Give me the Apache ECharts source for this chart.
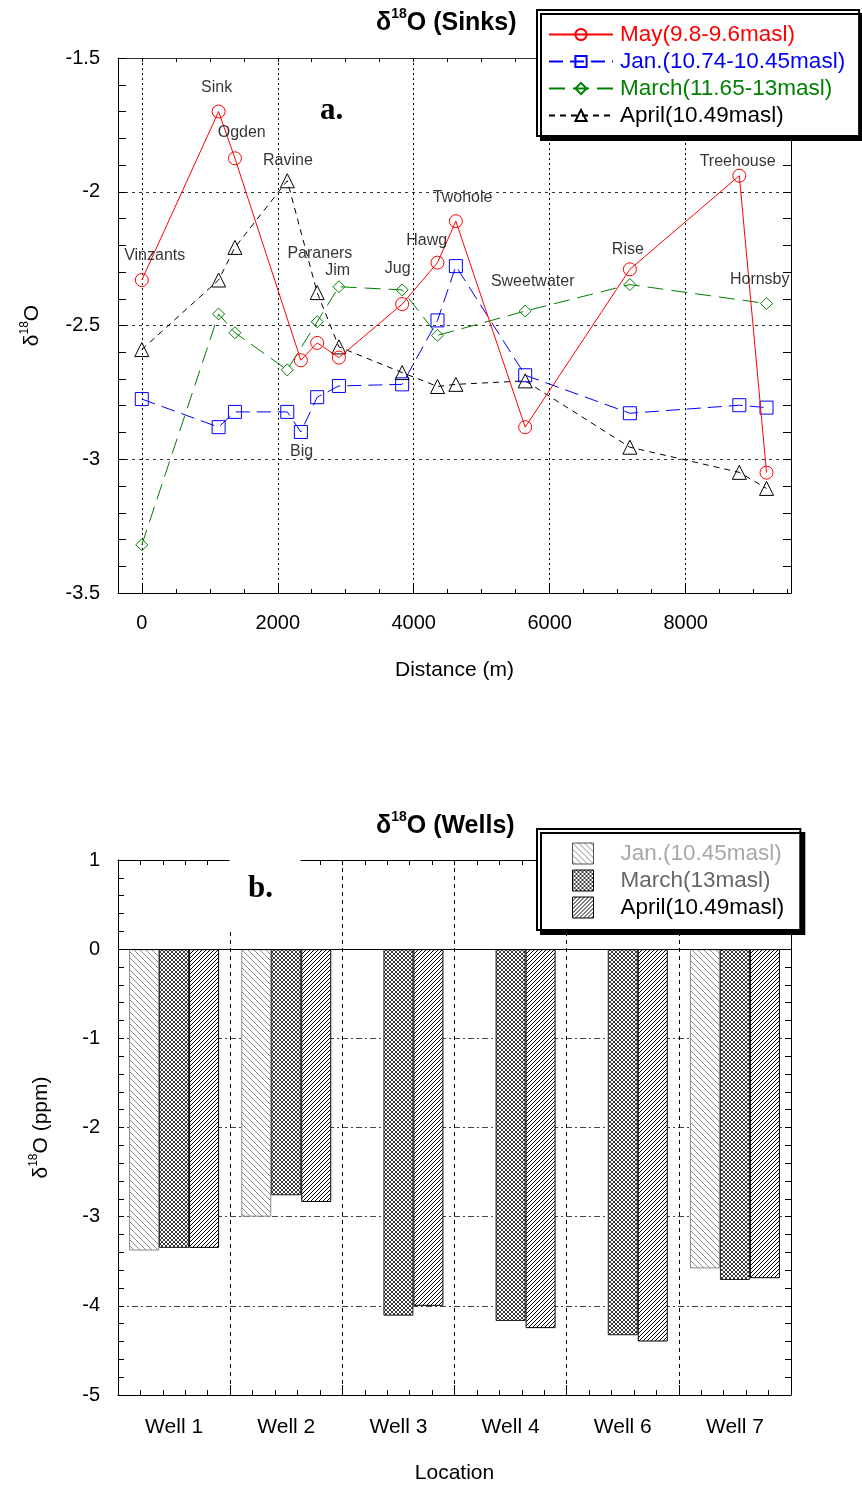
<!DOCTYPE html>
<html><head><meta charset="utf-8">
<script src="https://cdn.jsdelivr.net/npm/echarts@6/dist/echarts.min.js"></script>
<style>html,body{margin:0;padding:0;background:#fff}#c{width:862px;height:1489px}</style>
</head><body><div id="c"></div>
<script>
// ---------- Panel a: d18O in sinks ----------
const mayDist = [0, 1130, 1370, 2340, 2580, 2900, 3830, 4350, 4620, 5640, 7180, 8790, 9190];
const mayVals = [-2.33, -1.70, -1.875, -2.63, -2.565, -2.62, -2.42, -2.265, -2.11, -2.88, -2.29, -1.94, -3.05];
const janDist = [0, 1130, 1370, 2140, 2340, 2580, 2900, 3830, 4350, 4620, 5640, 7180, 8790, 9190];
const janVals = [-2.775, -2.88, -2.823, -2.823, -2.898, -2.768, -2.726, -2.72, -2.481, -2.278, -2.686, -2.828, -2.798, -2.807];
const marDist = [0, 1130, 1370, 2140, 2580, 2900, 3830, 4350, 5640, 7180, 9190];
const marVals = [-3.32, -2.457, -2.527, -2.666, -2.486, -2.355, -2.367, -2.537, -2.446, -2.347, -2.418];
const aprDist = [0, 1130, 1370, 2140, 2580, 2900, 3830, 4350, 4620, 5640, 7180, 8790, 9190];
const aprVals = [-2.59, -2.33, -2.208, -1.959, -2.377, -2.58, -2.676, -2.728, -2.72, -2.707, -2.955, -3.049, -3.109];

const siteNames  = ['Vinzants', 'Sink', 'Ogden', 'Ravine', 'Paraners', 'Jim', 'Big', 'Jug', 'Hawg', 'Twohole', 'Sweetwater', 'Rise', 'Treehouse', 'Hornsby'];
const siteLabelX = [190, 1100, 1470, 2150, 2620, 2880, 2350, 3765, 4190, 4720, 5750, 7150, 8765, 9090];
const siteLabelY = [-2.24, -1.612, -1.78, -1.885, -2.233, -2.293, -2.973, -2.289, -2.184, -2.023, -2.337, -2.218, -1.889, -2.33];

const distTicks = [0, 2000, 4000, 6000, 8000];
const distMinorTicks = [0, 500, 1000, 1500, 2000, 2500, 3000, 3500, 4000, 4500, 5000, 5500, 6000, 6500, 7000, 7500, 8000, 8500, 9000, 9500];

const seriesNamesA = ['May(9.8-9.6masl)', 'Jan.(10.74-10.45masl)', 'March(11.65-13masl)', 'April(10.49masl)'];

// ---------- Panel b: d18O in wells ----------
const wells = ['Well 1', 'Well 2', 'Well 3', 'Well 4', 'Well 6', 'Well 7'];
const wJan = [-3.38, -3.0, null, null, null, -3.58];
const wMar = [-3.35, -2.76, -4.11, -4.17, -4.33, -3.71];
const wApr = [-3.35, -2.835, -4.0, -4.25, -4.40, -3.69];
const seriesNamesB = ['Jan.(10.45masl)', 'March(13masl)', 'April(10.49masl)'];

const FONT = 'Liberation Sans';

function pairs(xs, ys) { return xs.map((x, i) => [x, ys[i]]); }

function makePattern(size, draw) {
  const c = document.createElement('canvas');
  c.width = size; c.height = size;
  const g = c.getContext('2d');
  g.fillStyle = '#fff'; g.fillRect(0, 0, size, size);
  draw(g, size);
  return { image: c, repeat: 'repeat' };
}
function back(g, s) { g.beginPath(); g.moveTo(-1, -1); g.lineTo(s + 1, s + 1); g.moveTo(-1, s - 1); g.lineTo(1, s + 1); g.moveTo(s - 1, -1); g.lineTo(s + 1, 1); g.stroke(); }
function fwd(g, s) { g.beginPath(); g.moveTo(-1, s + 1); g.lineTo(s + 1, -1); g.moveTo(-1, 1); g.lineTo(1, -1); g.moveTo(s - 1, s + 1); g.lineTo(s + 1, s - 1); g.stroke(); }
function janPattern() { return makePattern(6, (g, s) => { g.strokeStyle = '#8c8c8c'; g.lineWidth = 1; back(g, s); }); }
function marPattern() { return makePattern(4, (g, s) => { g.strokeStyle = '#3a3a3a'; g.lineWidth = 1; back(g, s); fwd(g, s); }); }
function aprPattern() { return makePattern(4, (g, s) => { g.strokeStyle = '#000'; g.lineWidth = 1; fwd(g, s); }); }

const richName = {
  d: { fontSize: 21, fontFamily: FONT, color: '#000', verticalAlign: 'bottom', lineHeight: 26 },
  s: { fontSize: 12, fontFamily: FONT, color: '#000', verticalAlign: 'bottom', lineHeight: 12, padding: [0, 0, 12, 0] }
};
const richTitle = {
  d: { fontSize: 25, fontWeight: 'bold', fontFamily: FONT, color: '#000', verticalAlign: 'bottom', lineHeight: 30 },
  s: { fontSize: 14, fontWeight: 'bold', fontFamily: FONT, color: '#000', verticalAlign: 'bottom', lineHeight: 14, padding: [0, 0, 15, 0] }
};

const axisBlack = { onZero: false, lineStyle: { color: '#000', width: 1 } };
const noLine = { show: false, onZero: false };
const noCommas = v => String(v);

const chart = echarts.init(document.getElementById('c'), null, { renderer: 'canvas' });

const option = {
  animation: false,
  backgroundColor: '#fff',
  title: [
    { text: '{d|δ}{s|18}{d|O (Sinks)}', left: 371, top: 1, textStyle: { rich: richTitle } },
    { text: '{d|δ}{s|18}{d|O (Wells)}', left: 371, top: 804, textStyle: { rich: richTitle } }
  ],
  grid: [
    { left: 118, top: 58, width: 673, height: 535 },
    { left: 118, top: 860, width: 673, height: 535 }
  ],
  legend: [
    {
      orient: 'vertical', left: 537, top: 10,
      data: [
        { name: seriesNamesA[0], textStyle: { color: '#ff0000' } },
        { name: seriesNamesA[1], textStyle: { color: '#0000ff' } },
        { name: seriesNamesA[2], textStyle: { color: '#008000' } },
        { name: seriesNamesA[3], textStyle: { color: '#000000' } }
      ],
      itemWidth: 64, itemHeight: 14, itemGap: 4,
      textStyle: { fontSize: 22.5, fontFamily: FONT, padding: [0, 0, 0, 2] },
      backgroundColor: '#fff', borderColor: '#000', borderWidth: 2, borderRadius: 0,
      padding: [13, 14, 9, 11],
      shadowColor: '#000', shadowOffsetX: 4, shadowOffsetY: 4, shadowBlur: 0,
      selectedMode: false
    },
    {
      orient: 'vertical', left: 537, top: 829,
      data: [
        { name: seriesNamesB[0], textStyle: { color: '#a8a8a8' }, itemStyle: { color: janPattern(), borderColor: '#555', borderWidth: 1 } },
        { name: seriesNamesB[1], textStyle: { color: '#666666' }, itemStyle: { color: marPattern(), borderColor: '#000', borderWidth: 1 } },
        { name: seriesNamesB[2], textStyle: { color: '#000000' }, itemStyle: { color: aprPattern(), borderColor: '#000', borderWidth: 1 } }
      ],
      icon: 'rect', itemWidth: 21, itemHeight: 21, itemGap: 4,
      textStyle: { fontSize: 22.5, fontFamily: FONT, padding: [0, 0, 0, 22] },
      backgroundColor: '#fff', borderColor: '#000', borderWidth: 2, borderRadius: 0,
      padding: [13, 16, 11, 35],
      shadowColor: '#000', shadowOffsetX: 4, shadowOffsetY: 4, shadowBlur: 0,
      selectedMode: false
    }
  ],
  xAxis: [
    { // 0: panel a main
      type: 'value', gridIndex: 0, min: -350, max: 9550, position: 'bottom',
      axisLine: axisBlack,
      axisTick: { customValues: distTicks, inside: true, length: 10, lineStyle: { color: '#000' } },
      axisLabel: { customValues: distTicks, formatter: noCommas, fontSize: 20, fontFamily: FONT, color: '#000', margin: 20 },
      splitLine: { show: true, lineStyle: { color: '#000', type: [2, 3], width: 1 } },
      name: 'Distance (m)', nameLocation: 'middle', nameGap: 67,
      nameTextStyle: { fontSize: 21, fontFamily: FONT, color: '#000' }
    },
    { // 1: panel a minor ticks bottom
      type: 'value', gridIndex: 0, min: -350, max: 9550, position: 'bottom',
      axisLine: noLine,
      axisTick: { customValues: distMinorTicks, inside: true, length: 4, lineStyle: { color: '#000' } },
      axisLabel: { show: false }, splitLine: { show: false }
    },
    { // 2: panel a top frame
      type: 'value', gridIndex: 0, min: -350, max: 9550, position: 'top',
      axisLine: { onZero: false, lineStyle: { color: '#333', width: 1 } },
      axisTick: { customValues: distMinorTicks, inside: true, length: 4, lineStyle: { color: '#000' } },
      axisLabel: { show: false }, splitLine: { show: false }
    },
    { // 3: panel b categories
      type: 'category', gridIndex: 1, data: wells, position: 'bottom',
      axisLine: axisBlack, axisTick: { show: false },
      axisLabel: { fontSize: 21, fontFamily: FONT, color: '#000', margin: 22 },
      splitLine: { show: false },
      name: 'Location', nameLocation: 'middle', nameGap: 68,
      nameTextStyle: { fontSize: 21, fontFamily: FONT, color: '#000' }
    },
    { // 4: panel b ticks + vertical separators
      type: 'value', gridIndex: 1, min: 0, max: 6, interval: 1, position: 'bottom',
      axisLine: noLine,
      axisTick: { inside: true, length: 10, lineStyle: { color: '#000' } },
      minorTick: { show: true, splitNumber: 5, length: 5, lineStyle: { color: '#000' } },
      axisLabel: { show: false },
      splitLine: { show: true, lineStyle: { color: '#000', type: [4, 4], width: 1 } }
    },
    { // 5: panel b top frame
      type: 'value', gridIndex: 1, min: 0, max: 6, interval: 1, position: 'top',
      axisLine: axisBlack,
      axisTick: { inside: true, length: 5, lineStyle: { color: '#000' } },
      minorTick: { show: true, splitNumber: 5, length: 5, lineStyle: { color: '#000' } },
      axisLabel: { show: false }, splitLine: { show: false }
    }
  ],
  yAxis: [
    { // 0: panel a left
      type: 'value', gridIndex: 0, min: -3.5, max: -1.5, interval: 0.5, position: 'left',
      axisLine: axisBlack,
      axisTick: { inside: true, length: 8, lineStyle: { color: '#000' } },
      minorTick: { show: true, splitNumber: 5, length: 8, lineStyle: { color: '#000' } },
      axisLabel: { fontSize: 20, fontFamily: FONT, color: '#000', margin: 18 },
      splitLine: { show: true, lineStyle: { color: '#333', type: [3, 4], width: 1 } },
      name: '{d|δ}{s|18}{d|O}', nameLocation: 'middle', nameGap: 75, nameRotate: 90,
      nameTextStyle: { rich: richName }
    },
    { // 1: panel a right
      type: 'value', gridIndex: 0, min: -3.5, max: -1.5, interval: 0.5, position: 'right',
      axisLine: axisBlack,
      axisTick: { inside: true, length: 8, lineStyle: { color: '#000' } },
      minorTick: { show: true, splitNumber: 5, length: 8, lineStyle: { color: '#000' } },
      axisLabel: { show: false }, splitLine: { show: false }
    },
    { // 2: panel b left
      type: 'value', gridIndex: 1, min: -5, max: 1, interval: 1, position: 'left',
      axisLine: axisBlack,
      axisTick: { inside: true, length: 6, lineStyle: { color: '#000' } },
      minorTick: { show: true, splitNumber: 5, length: 6, lineStyle: { color: '#000' } },
      axisLabel: { fontSize: 20, fontFamily: FONT, color: '#000', margin: 18 },
      splitLine: { show: true, lineStyle: { color: '#444', type: [6, 3, 2, 3], width: 1 } },
      name: '{d|δ}{s|18}{d|O (ppm)}', nameLocation: 'middle', nameGap: 66, nameRotate: 90,
      nameTextStyle: { rich: richName }
    },
    { // 3: panel b right
      type: 'value', gridIndex: 1, min: -5, max: 1, interval: 1, position: 'right',
      axisLine: axisBlack,
      axisTick: { inside: true, length: 6, lineStyle: { color: '#000' } },
      minorTick: { show: true, splitNumber: 5, length: 6, lineStyle: { color: '#000' } },
      axisLabel: { show: false }, splitLine: { show: false }
    }
  ],
  series: [
    {
      name: seriesNamesA[0], type: 'line', xAxisIndex: 0, yAxisIndex: 0,
      data: pairs(mayDist, mayVals),
      symbol: 'circle', symbolSize: 13,
      lineStyle: { color: '#ff0000', width: 1, type: 'solid' },
      itemStyle: { color: 'rgba(255,255,255,0)', borderColor: '#ff0000', borderWidth: 1 },
      z: 4
    },
    {
      name: seriesNamesA[1], type: 'line', xAxisIndex: 0, yAxisIndex: 0,
      data: pairs(janDist, janVals),
      symbol: 'rect', symbolSize: 13,
      lineStyle: { color: '#0000ff', width: 1, type: [14, 7] },
      itemStyle: { color: 'rgba(255,255,255,0)', borderColor: '#0000ff', borderWidth: 1 },
      z: 3
    },
    {
      name: seriesNamesA[2], type: 'line', xAxisIndex: 0, yAxisIndex: 0,
      data: pairs(marDist, marVals),
      symbol: 'diamond', symbolSize: 12,
      lineStyle: { color: '#008000', width: 1, type: [16, 8] },
      itemStyle: { color: 'rgba(255,255,255,0)', borderColor: '#008000', borderWidth: 1 },
      z: 3
    },
    {
      name: seriesNamesA[3], type: 'line', xAxisIndex: 0, yAxisIndex: 0,
      data: pairs(aprDist, aprVals),
      symbol: 'triangle', symbolSize: 14,
      lineStyle: { color: '#000000', width: 1, type: [6, 5] },
      itemStyle: { color: 'rgba(255,255,255,0)', borderColor: '#000000', borderWidth: 1 },
      z: 3
    },
    {
      name: 'sites', type: 'scatter', xAxisIndex: 0, yAxisIndex: 0, silent: true,
      symbolSize: 1, itemStyle: { color: 'rgba(0,0,0,0)' },
      data: siteNames.map((n, i) => ({ name: n, value: [siteLabelX[i], siteLabelY[i]] })),
      label: { show: true, position: 'inside', formatter: '{b}', fontSize: 16, fontFamily: FONT, color: '#000' },
      z: 6
    },
    {
      name: seriesNamesB[0], type: 'bar', xAxisIndex: 3, yAxisIndex: 2,
      data: wJan, barWidth: 30, barGap: '0%',
      itemStyle: { color: janPattern(), borderColor: '#8a8a8a', borderWidth: 1 }
    },
    {
      name: seriesNamesB[1], type: 'bar', xAxisIndex: 3, yAxisIndex: 2,
      data: wMar, barWidth: 30, barGap: '0%',
      itemStyle: { color: marPattern(), borderColor: '#222', borderWidth: 1 }
    },
    {
      name: seriesNamesB[2], type: 'bar', xAxisIndex: 3, yAxisIndex: 2,
      data: wApr, barWidth: 30, barGap: '0%',
      itemStyle: { color: aprPattern(), borderColor: '#000', borderWidth: 1 },
      markLine: {
        silent: true, symbol: 'none', label: { show: false },
        lineStyle: { color: '#000', type: 'solid', width: 1 },
        data: [{ yAxis: 0 }]
      }
    }
  ],
  graphic: [
    { type: 'text', left: 320, top: 95, z: 100, style: { text: 'a.', font: 'bold 31px "Liberation Serif"', fill: '#000' } },
    { type: 'rect', z: 99, shape: { x: 229.5, y: 853, width: 71, height: 75 }, style: { fill: '#fff' } },
    { type: 'text', left: 248, top: 873, z: 100, style: { text: 'b.', font: 'bold 31px "Liberation Serif"', fill: '#000' } }
  ]
};
chart.setOption(option);
</script>
</body></html>
